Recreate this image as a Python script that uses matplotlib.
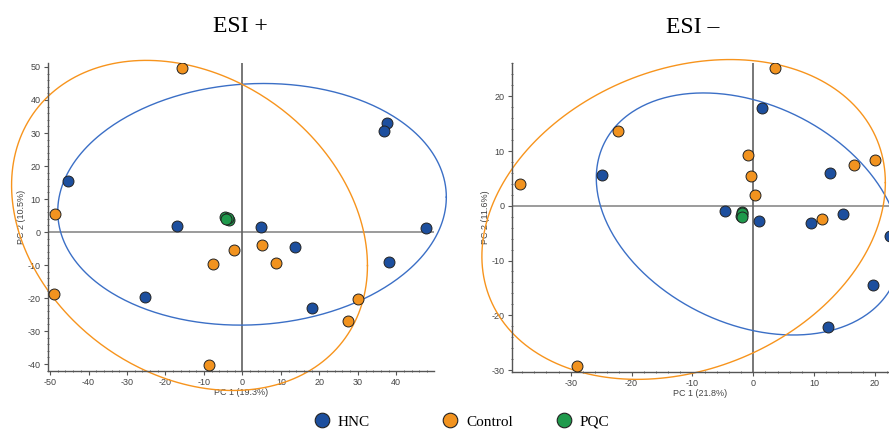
import numpy as np
import matplotlib
matplotlib.use("Agg")
import matplotlib.pyplot as plt
from matplotlib.lines import Line2D
from matplotlib.ticker import MultipleLocator

# PCA scores, ESI+ mode
pos_hnc_x = [37.5, 36.8, -45.3, -17.1, 4.9, 47.8, 13.6, 38.2, -25.3, 18.1]
pos_hnc_y = [32.9, 30.7, 15.5, 1.7, 1.4, 1.3, -4.6, -9.1, -19.8, -23.1]
pos_ctrl_x = [-15.7, -48.6, 5.0, -2.2, -7.7, 8.8, -48.9, 30.1, 27.5, -8.8]
pos_ctrl_y = [49.8, 5.4, -3.9, -5.4, -9.7, -9.4, -18.7, -20.4, -27.1, -40.3]
pos_pqc_x = [-4.6, -4.0, -3.5, -3.8, -4.3]
pos_pqc_y = [4.6, 4.0, 3.6, 4.3, 3.9]

# PCA scores, ESI- mode
neg_hnc_x = [1.4, -24.8, 12.6, -4.6, 0.9, 9.5, 14.7, 22.5, 19.6, 12.2]
neg_hnc_y = [17.8, 5.6, 6.0, -1.0, -2.8, -3.2, -1.5, -5.6, -14.5, -22.1]
neg_ctrl_x = [3.6, -22.2, -0.9, 16.6, 20.0, -38.4, -0.4, 0.3, 11.3, -29.0]
neg_ctrl_y = [25.1, 13.7, 9.3, 7.4, 8.3, 3.9, 5.5, 1.9, -2.5, -29.2]
neg_pqc_x = [-1.9, -1.8, -2.0, -1.8, -1.9]
neg_pqc_y = [-1.2, -1.6, -1.9, -1.4, -2.1]

# confidence ellipses: center x, center y, half-width, half-height, xy covariance
pos_hnc_ell = (2.5, 8.4, 50.5, 36.6, 110.0)
pos_ctrl_ell = (-13.75, 2.0, 46.25, 50.0, -562.5)
neg_hnc_ell = (-0.8, -1.5, 25.0, 22.1, -163.5)
neg_ctrl_ell = (-11.45, -2.5, 33.15, 29.2, 223.0)

labels = ["HNC", "Control", "PQC"]
c_hnc = "#1d4f9e"
c_ctrl = "#f2931f"
c_pqc = "#1f9a4c"
c_hnc_line = "#3b6fc6"
c_ctrl_line = "#f7941d"

plt.rcParams["font.family"] = ["Liberation Sans", "DejaVu Sans"]
plt.rcParams["axes.unicode_minus"] = False

fig = plt.figure(figsize=(8.89, 4.30), dpi=100)


def draw_ellipse(ax, ell, color):
    cx, cy, hx, hy, sxy = ell
    cov = np.array([[hx ** 2, sxy], [sxy, hy ** 2]])
    L = np.linalg.cholesky(cov)
    t = np.linspace(0, 2 * np.pi, 400)
    pts = L @ np.vstack([np.cos(t), np.sin(t)])
    ax.plot(cx + pts[0], cy + pts[1], color=color, lw=1.0, clip_on=False, zorder=2)


def score_plot(ax, hnc, ctrl, pqc, ells, xlim, ylim, xlab, ylab, title):
    ax.set_xlim(*xlim)
    ax.set_ylim(*ylim)
    ax.axhline(0, color="#8a8a8a", lw=1.2, zorder=1)
    ax.axvline(0, color="#606060", lw=1.2, zorder=1)
    draw_ellipse(ax, ells[0], c_hnc_line)
    draw_ellipse(ax, ells[1], c_ctrl_line)
    kw = dict(s=62, edgecolors="#222222", linewidths=0.7, zorder=3)
    ax.scatter(hnc[0], hnc[1], color=c_hnc, **kw)
    ax.scatter(ctrl[0], ctrl[1], color=c_ctrl, **kw)
    ax.scatter(pqc[0], pqc[1], color=c_pqc, **kw)

    for s in ["top", "right"]:
        ax.spines[s].set_visible(False)
    for s in ["left", "bottom"]:
        ax.spines[s].set_color("#555555")
        ax.spines[s].set_linewidth(1.0)
    ax.xaxis.set_major_locator(MultipleLocator(10))
    ax.yaxis.set_major_locator(MultipleLocator(10))
    ax.xaxis.set_minor_locator(MultipleLocator(2))
    ax.yaxis.set_minor_locator(MultipleLocator(2))
    ax.tick_params(which="major", length=3, width=0.8, color="#555555",
                   labelsize=6.5, labelcolor="#444444", pad=2)
    ax.tick_params(which="minor", length=2, width=0.6, color="#555555",
                   direction="inout")
    ax.set_xlabel(xlab, fontsize=6.5, color="#444444", labelpad=1)
    ax.set_ylabel(ylab, fontsize=6.5, color="#444444", labelpad=1)
    ax.set_title(title, family=["Liberation Serif"], fontsize=17, pad=22)


ax1 = fig.add_axes([0.0537, 0.1372, 0.4345, 0.717])
score_plot(ax1, (pos_hnc_x, pos_hnc_y), (pos_ctrl_x, pos_ctrl_y),
           (pos_pqc_x, pos_pqc_y), (pos_hnc_ell, pos_ctrl_ell),
           (-50.6, 49.8), (-42.1, 51.3), "PC 1 (19.3%)", "PC 2 (10.5%)", "ESI +")

ax2 = fig.add_axes([0.5756, 0.1356, 0.4244, 0.717])
score_plot(ax2, (neg_hnc_x, neg_hnc_y), (neg_ctrl_x, neg_ctrl_y),
           (neg_pqc_x, neg_pqc_y), (neg_hnc_ell, neg_ctrl_ell),
           (-39.7, 22.3), (-30.3, 26.0), "PC 1 (21.8%)", "PC 2 (11.6%)", "ESI \u2013")
ax2.title.set_position((0.5 - 0.02, 1.0))

# legend entries placed one by one along the bottom
leg_x = [0.345, 0.489, 0.617]
for lab, col, x in zip(labels, [c_hnc, c_ctrl, c_pqc], leg_x):
    h = Line2D([], [], marker="o", ls="", markersize=10.5, markerfacecolor=col,
               markeredgecolor="#222222", markeredgewidth=0.8)
    fig.legend([h], [lab], loc="center left", bbox_to_anchor=(x, 0.019),
               frameon=False, handletextpad=0.05, borderpad=0, borderaxespad=0,
               prop={"family": "Liberation Serif", "size": 11})

fig.savefig("out.png", dpi=100)
